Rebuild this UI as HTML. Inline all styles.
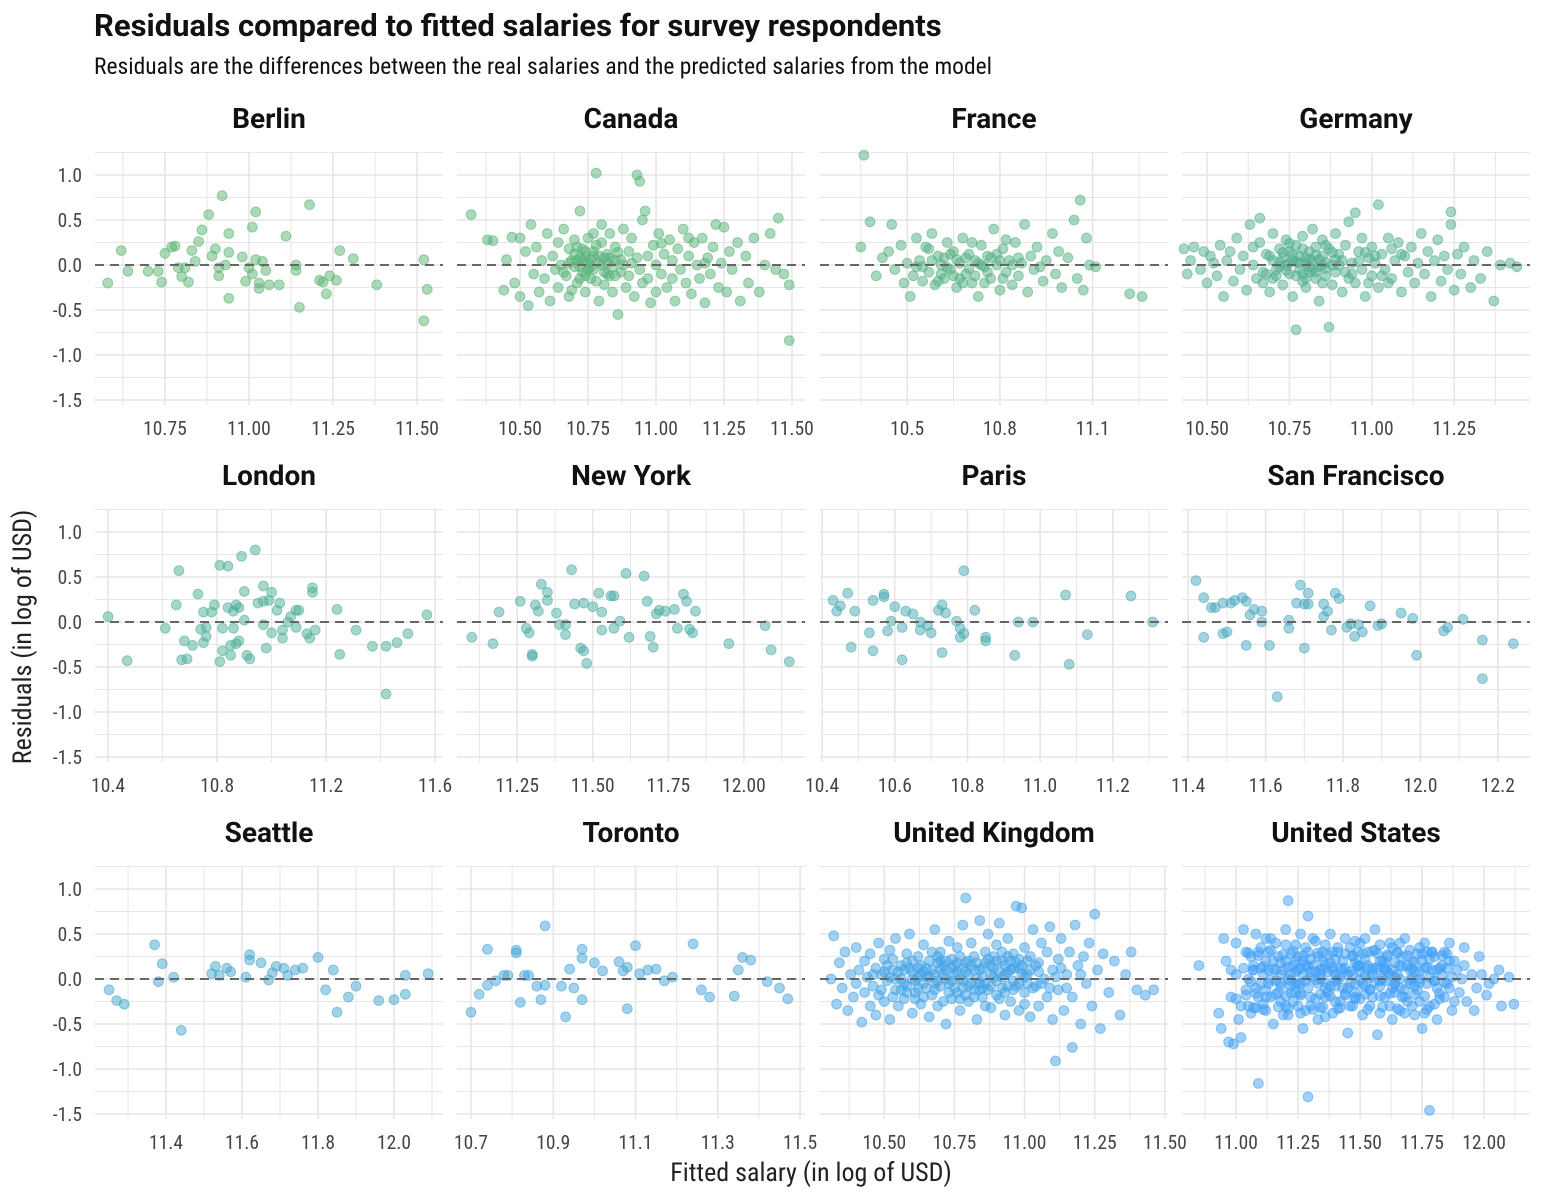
<!DOCTYPE html>
<html><head><meta charset="utf-8">
<style>
body{margin:0;background:#fff;}
svg{display:block;font-family:"Roboto Condensed","Liberation Sans Narrow","Liberation Sans",sans-serif;}
.tick{font-size:19.5px;fill:#444;}
.strip{font-size:28px;font-weight:bold;fill:#111;font-family:"Roboto","Liberation Sans",sans-serif;}
</style></head>
<body>
<svg id="chart" width="1543" height="1200" viewBox="0 0 1543 1200">
<text x="94" y="36" font-size="31" font-weight="bold" fill="#111" font-family="Roboto, Liberation Sans, sans-serif">Residuals compared to fitted salaries for survey respondents</text>
<text x="94" y="74" font-size="23.5" fill="#111">Residuals are the differences between the real salaries and the predicted salaries from the model</text>
<text transform="translate(31,637) rotate(-90)" text-anchor="middle" font-size="26" fill="#222">Residuals (in log of USD)</text>
<text x="811" y="1181" text-anchor="middle" font-size="26" fill="#222">Fitted salary (in log of USD)</text>
<g id="panels"></g>
</svg>
<script>
const panelNames = ["Berlin","Canada","France","Germany","London","New York","Paris","San Francisco","Seattle","Toronto","United Kingdom","United States"];
const panelColors = ["#5ab36f","#56b277","#52b080","#4fae8c","#4cae98","#4aaca3","#49aab0","#47a8bd","#45a6cb","#43a4d8","#41a2e6","#3f9ff5"];
const xDomains = [[10.542,11.577],[10.268,11.548],[10.218,11.344],[10.424,11.480],[10.352,11.629],[11.051,12.202],[10.394,11.352],[11.384,12.283],[11.213,12.129],[10.666,11.512],[10.271,11.511],[10.782,12.185]];
const xTicks = [[10.75,11.00,11.25,11.50],[10.50,10.75,11.00,11.25,11.50],[10.5,10.8,11.1],[10.50,10.75,11.00,11.25],[10.4,10.8,11.2,11.6],[11.25,11.50,11.75,12.00],[10.4,10.6,10.8,11.0,11.2],[11.4,11.6,11.8,12.0,12.2],[11.4,11.6,11.8,12.0],[10.7,10.9,11.1,11.3,11.5],[10.50,10.75,11.00,11.25,11.50],[11.00,11.25,11.50,11.75,12.00]];
const xTickDecimals = [2,2,1,2,1,2,1,1,1,1,2,2];
const yTicks = [-1.5,-1.0,-0.5,0.0,0.5,1.0];
const yTickLabels = ["-1.5","-1.0","-0.5","0.0","0.5","1.0"];

const berlin = [[10.58,-0.20],[10.62,0.16],[10.64,-0.07],[10.70,-0.07],[10.73,-0.07],[10.74,-0.19],[10.75,0.13],[10.77,0.20],[10.78,0.21],[10.79,-0.03],[10.80,-0.13],[10.81,-0.03],[10.82,-0.19],[10.83,0.16],[10.84,0.04],[10.85,0.26],[10.86,0.39],[10.88,0.56],[10.89,0.10],[10.90,0.18],[10.91,-0.03],[10.91,-0.12],[10.92,0.77],[10.93,0.00],[10.94,-0.37],[10.94,0.14],[10.94,0.35],[10.98,0.09],[10.99,-0.18],[11.00,-0.03],[11.01,0.42],[11.02,0.59],[11.02,0.06],[11.03,-0.26],[11.03,-0.20],[11.01,-0.10],[11.04,0.04],[11.05,-0.06],[11.06,-0.22],[11.09,-0.22],[11.11,0.32],[11.14,0.00],[11.14,-0.06],[11.15,-0.47],[11.18,0.67],[11.21,-0.17],[11.22,-0.19],[11.23,-0.32],[11.24,-0.12],[11.26,-0.17],[11.27,0.16],[11.31,0.07],[11.38,-0.22],[11.52,0.06],[11.52,-0.62],[11.53,-0.27]];
const canada = [[10.32,0.56],[10.38,0.28],[10.40,0.27],[10.44,-0.28],[10.45,0.06],[10.47,0.31],[10.48,-0.20],[10.50,0.30],[10.50,-0.35],[10.52,0.15],[10.53,-0.45],[10.54,0.45],[10.55,-0.10],[10.56,0.20],[10.57,-0.30],[10.58,0.05],[10.59,-0.15],[10.60,0.35],[10.61,-0.40],[10.62,0.10],[10.63,-0.05],[10.64,0.25],[10.64,-0.25],[10.65,0.00],[10.66,0.40],[10.67,-0.12],[10.68,0.18],[10.68,-0.35],[10.69,0.05],[10.70,-0.02],[10.70,0.28],[10.71,-0.20],[10.72,0.60],[10.72,0.08],[10.73,-0.08],[10.74,0.15],[10.74,-0.30],[10.75,0.02],[10.75,0.30],[10.76,-0.15],[10.77,0.10],[10.77,-0.05],[10.78,1.02],[10.78,0.22],[10.79,-0.40],[10.80,0.00],[10.80,0.45],[10.81,-0.22],[10.82,0.12],[10.82,-0.10],[10.83,0.35],[10.84,-0.30],[10.85,0.05],[10.85,0.20],[10.86,-0.55],[10.87,-0.08],[10.88,0.40],[10.88,0.00],[10.89,-0.25],[10.90,0.15],[10.90,-0.12],[10.91,0.30],[10.92,-0.35],[10.93,1.00],[10.94,0.93],[10.93,0.08],[10.94,-0.05],[10.95,0.50],[10.95,-0.20],[10.96,0.60],[10.97,0.10],[10.98,-0.42],[10.99,0.22],[11.00,0.00],[11.00,-0.30],[11.01,0.35],[11.02,-0.10],[11.03,0.12],[11.04,-0.25],[11.05,0.28],[11.06,0.05],[11.07,-0.40],[11.08,0.18],[11.09,-0.05],[11.10,0.40],[11.11,-0.20],[11.12,0.10],[11.13,-0.32],[11.14,0.25],[11.15,0.00],[11.16,-0.15],[11.17,0.30],[11.18,-0.42],[11.19,0.08],[11.20,-0.10],[11.21,0.20],[11.22,0.45],[11.23,-0.25],[11.24,0.02],[11.25,0.42],[11.26,-0.30],[11.27,0.15],[11.28,-0.05],[11.30,0.25],[11.31,-0.40],[11.33,0.10],[11.34,-0.20],[11.36,0.30],[11.38,-0.30],[11.40,0.00],[11.42,0.35],[11.44,-0.05],[11.45,0.52],[11.47,-0.10],[11.49,-0.84],[11.49,-0.22],[10.66,-0.08],[10.70,0.12],[10.73,0.05],[10.76,-0.02],[10.79,0.03],[10.81,0.08],[10.84,-0.02],[10.87,0.06],[10.91,0.02],[10.71,0.20],[10.74,-0.12],[10.78,-0.18],[10.83,-0.12],[10.86,0.14],[10.72,-0.15],[10.77,0.35],[10.97,-0.15],[11.02,0.24],[10.69,-0.28],[10.71,0.05],[10.73,0.18],[10.75,-0.05],[10.77,0.15],[10.79,0.10],[10.81,-0.08],[10.83,0.08],[10.85,-0.12],[10.72,-0.02],[10.68,0.02],[10.80,0.25],[10.76,0.06],[10.74,0.09],[10.82,0.02],[11.06,-0.15],[11.12,0.30],[11.18,0.02]];
const france = [[10.35,0.20],[10.36,1.22],[10.38,0.48],[10.40,-0.12],[10.42,0.08],[10.44,0.15],[10.45,0.45],[10.46,-0.05],[10.48,0.22],[10.49,-0.20],[10.50,0.02],[10.51,-0.35],[10.52,-0.12],[10.53,0.30],[10.54,0.05],[10.55,-0.18],[10.56,0.20],[10.57,-0.08],[10.58,0.35],[10.59,-0.22],[10.60,0.10],[10.61,0.00],[10.62,-0.15],[10.63,0.25],[10.64,-0.05],[10.65,0.15],[10.66,-0.25],[10.67,0.02],[10.68,0.30],[10.69,-0.10],[10.70,0.12],[10.71,-0.20],[10.72,0.05],[10.73,-0.35],[10.74,0.22],[10.75,-0.02],[10.76,0.10],[10.77,-0.15],[10.78,0.40],[10.79,0.00],[10.80,-0.28],[10.81,0.18],[10.82,-0.08],[10.83,0.05],[10.84,-0.22],[10.85,0.25],[10.86,-0.12],[10.87,0.02],[10.88,0.45],[10.89,-0.30],[10.90,0.10],[10.91,-0.05],[10.92,0.20],[10.94,-0.18],[10.95,0.05],[10.97,0.35],[10.98,-0.10],[10.99,0.15],[11.00,-0.25],[11.02,0.08],[11.04,0.50],[11.05,-0.15],[11.06,0.72],[11.07,-0.28],[11.08,0.30],[11.09,0.00],[11.11,-0.02],[11.22,-0.32],[11.26,-0.35],[10.53,-0.02],[10.58,0.05],[10.63,-0.03],[10.66,0.06],[10.70,-0.04],[10.74,0.00],[10.76,-0.08],[10.60,-0.18],[10.68,-0.20],[10.72,-0.12],[10.79,0.12],[10.62,0.08],[10.65,-0.12],[10.71,0.25],[10.75,-0.20],[10.82,0.28],[10.86,0.08],[10.93,-0.02],[10.57,0.18],[10.55,-0.02],[10.80,0.05],[10.61,-0.10],[10.64,0.12],[10.67,-0.15],[10.69,0.08],[10.73,0.02],[10.77,0.08],[10.81,-0.15],[10.84,0.00]];
const germany = [[10.43,0.18],[10.44,-0.10],[10.45,0.05],[10.46,0.20],[10.48,-0.05],[10.49,0.15],[10.50,-0.20],[10.51,0.10],[10.52,0.02],[10.53,-0.12],[10.54,0.22],[10.55,-0.35],[10.56,0.05],[10.57,0.15],[10.58,-0.18],[10.59,0.30],[10.60,-0.05],[10.61,0.10],[10.62,-0.28],[10.63,0.45],[10.64,0.00],[10.65,-0.15],[10.66,0.25],[10.66,0.52],[10.67,-0.08],[10.68,0.12],[10.69,-0.30],[10.70,0.05],[10.70,0.35],[10.71,-0.12],[10.72,0.18],[10.72,-0.02],[10.73,0.08],[10.73,-0.22],[10.74,0.28],[10.74,0.00],[10.75,-0.10],[10.75,0.15],[10.76,0.05],[10.76,-0.35],[10.77,-0.72],[10.77,0.22],[10.78,-0.05],[10.78,0.10],[10.79,-0.18],[10.79,0.32],[10.80,0.02],[10.80,-0.25],[10.81,0.15],[10.81,-0.08],[10.82,0.40],[10.82,0.05],[10.83,-0.15],[10.83,0.20],[10.84,-0.02],[10.84,-0.40],[10.85,0.10],[10.85,0.28],[10.86,-0.12],[10.86,0.03],[10.87,-0.69],[10.87,0.18],[10.88,-0.22],[10.88,0.00],[10.89,0.35],[10.89,-0.08],[10.90,0.12],[10.91,-0.30],[10.91,0.05],[10.92,0.22],[10.93,-0.15],[10.93,0.48],[10.94,0.02],[10.95,0.58],[10.95,-0.20],[10.96,0.15],[10.97,-0.05],[10.97,0.30],[10.98,-0.35],[10.99,0.08],[11.00,0.20],[11.00,-0.12],[11.01,0.02],[11.02,0.67],[11.02,-0.25],[11.03,0.12],[11.04,-0.05],[11.05,0.30],[11.06,-0.15],[11.07,0.05],[11.08,0.25],[11.09,-0.30],[11.10,0.10],[11.11,-0.08],[11.12,0.20],[11.13,-0.20],[11.14,0.02],[11.15,0.35],[11.16,-0.10],[11.17,0.15],[11.18,-0.35],[11.19,0.05],[11.20,0.28],[11.21,-0.18],[11.22,0.10],[11.23,-0.05],[11.24,0.59],[11.24,0.45],[11.25,-0.28],[11.26,0.12],[11.27,-0.10],[11.28,0.20],[11.30,-0.25],[11.31,0.05],[11.33,-0.15],[11.35,0.15],[11.37,-0.40],[11.39,0.00],[11.42,0.02],[11.44,-0.02],[10.78,0.02],[10.80,0.08],[10.82,-0.05],[10.76,0.12],[10.84,0.06],[10.74,-0.06],[10.86,-0.04],[10.79,-0.10],[10.83,0.11],[10.77,0.04],[10.81,-0.02],[10.90,0.00],[10.72,0.03],[10.69,0.10],[10.71,-0.05],[10.75,0.24],[10.80,-0.15],[10.85,-0.20],[10.88,0.14],[10.92,-0.08],[10.96,0.04],[10.99,-0.20],[11.03,-0.12],[11.06,0.18],[10.64,0.20],[10.67,-0.20],[10.70,-0.15],[10.73,0.14],[10.77,-0.12],[10.79,0.18],[10.81,0.06],[10.83,-0.08],[10.86,0.22],[10.89,0.06],[10.94,-0.10],[10.98,0.14],[11.01,0.10],[11.05,-0.20],[11.09,0.12],[10.68,-0.10],[10.75,0.02],[10.85,0.00]];
const london = [[10.40,0.06],[10.47,-0.43],[10.61,-0.07],[10.66,0.57],[10.65,0.19],[10.67,-0.42],[10.68,-0.21],[10.69,-0.41],[10.71,-0.26],[10.73,0.31],[10.74,-0.08],[10.75,-0.23],[10.75,0.11],[10.76,-0.16],[10.76,-0.06],[10.78,0.11],[10.79,0.19],[10.81,-0.44],[10.81,0.63],[10.82,-0.32],[10.82,-0.07],[10.84,0.62],[10.84,0.16],[10.85,-0.26],[10.85,-0.37],[10.86,-0.07],[10.86,0.12],[10.87,0.19],[10.87,-0.24],[10.88,0.16],[10.88,-0.21],[10.89,0.73],[10.90,0.34],[10.90,0.02],[10.91,-0.37],[10.92,-0.41],[10.94,0.80],[10.95,0.21],[10.97,0.40],[10.97,0.23],[10.97,-0.03],[10.98,-0.29],[10.99,0.24],[11.00,-0.12],[11.00,0.33],[11.02,0.13],[11.03,0.21],[11.04,-0.09],[11.04,-0.18],[11.06,0.00],[11.07,0.06],[11.09,0.13],[11.09,-0.06],[11.10,0.13],[11.13,-0.13],[11.14,-0.18],[11.15,0.38],[11.15,0.33],[11.16,-0.09],[11.24,0.14],[11.25,-0.36],[11.31,-0.09],[11.37,-0.27],[11.42,-0.27],[11.42,-0.80],[11.46,-0.23],[11.50,-0.13],[11.57,0.08]];
const newYork = [[11.10,-0.17],[11.17,-0.24],[11.19,0.11],[11.26,0.23],[11.28,-0.07],[11.29,-0.12],[11.30,-0.36],[11.30,-0.38],[11.31,0.19],[11.32,0.12],[11.33,0.42],[11.35,0.33],[11.35,0.24],[11.38,0.10],[11.39,-0.03],[11.41,-0.03],[11.41,-0.14],[11.43,0.58],[11.44,0.20],[11.46,-0.29],[11.47,-0.32],[11.48,-0.46],[11.47,0.21],[11.50,0.17],[11.52,0.32],[11.53,0.11],[11.53,-0.09],[11.56,0.29],[11.57,-0.07],[11.57,0.29],[11.59,0.01],[11.61,0.54],[11.62,-0.17],[11.67,0.51],[11.68,0.23],[11.69,-0.16],[11.71,0.09],[11.70,-0.28],[11.72,0.13],[11.74,0.12],[11.77,0.14],[11.78,-0.07],[11.80,0.31],[11.81,0.23],[11.82,-0.08],[11.83,-0.12],[11.84,0.12],[11.95,-0.24],[12.07,-0.04],[12.09,-0.31],[12.15,-0.44]];
const paris = [[10.43,0.24],[10.44,0.12],[10.45,0.18],[10.47,0.32],[10.48,-0.28],[10.49,0.12],[10.53,-0.12],[10.54,-0.32],[10.54,0.24],[10.57,0.28],[10.57,0.31],[10.58,-0.10],[10.59,0.01],[10.60,0.17],[10.62,-0.06],[10.62,-0.42],[10.63,0.12],[10.65,0.09],[10.67,-0.09],[10.67,0.00],[10.69,-0.04],[10.70,-0.12],[10.72,0.13],[10.73,-0.34],[10.73,0.19],[10.74,0.10],[10.77,0.01],[10.78,-0.17],[10.78,-0.07],[10.79,0.57],[10.79,-0.13],[10.82,0.13],[10.85,-0.17],[10.85,-0.21],[10.93,-0.37],[10.94,0.00],[10.98,0.00],[11.07,0.30],[11.08,-0.47],[11.13,-0.14],[11.25,0.29],[11.31,0.00]];
const sanFrancisco = [[11.42,0.46],[11.44,0.27],[11.44,-0.17],[11.46,0.16],[11.47,0.16],[11.49,-0.13],[11.49,0.21],[11.50,-0.11],[11.51,0.21],[11.52,0.24],[11.54,0.27],[11.55,0.23],[11.56,0.08],[11.55,-0.26],[11.57,0.14],[11.59,0.00],[11.59,0.12],[11.61,-0.26],[11.63,-0.83],[11.66,-0.07],[11.66,0.02],[11.68,0.21],[11.69,0.41],[11.70,0.20],[11.70,-0.29],[11.71,0.32],[11.71,0.20],[11.75,0.06],[11.75,0.20],[11.76,0.12],[11.77,-0.09],[11.78,0.32],[11.79,0.26],[11.81,-0.06],[11.82,-0.02],[11.83,-0.16],[11.84,-0.03],[11.85,-0.11],[11.87,0.18],[11.89,-0.04],[11.90,-0.02],[11.95,0.10],[11.98,0.04],[12.06,-0.10],[12.07,-0.06],[12.11,0.03],[11.99,-0.37],[12.16,-0.20],[12.16,-0.63],[12.24,-0.24]];
const seattle = [[11.25,-0.12],[11.27,-0.24],[11.29,-0.28],[11.37,0.38],[11.38,-0.03],[11.39,0.17],[11.42,0.02],[11.44,-0.57],[11.52,0.06],[11.53,0.14],[11.54,0.04],[11.56,0.12],[11.57,0.08],[11.61,0.02],[11.62,0.27],[11.62,0.21],[11.65,0.18],[11.67,-0.01],[11.68,0.07],[11.69,0.14],[11.71,0.12],[11.72,0.04],[11.74,0.10],[11.76,0.12],[11.80,0.24],[11.82,-0.12],[11.84,0.10],[11.85,-0.37],[11.88,-0.20],[11.90,-0.08],[11.96,-0.24],[12.00,-0.23],[12.03,-0.17],[12.03,0.04],[12.09,0.06]];
const toronto = [[10.70,-0.37],[10.72,-0.17],[10.74,-0.07],[10.74,0.33],[10.76,-0.02],[10.78,0.04],[10.79,0.04],[10.81,0.32],[10.81,0.29],[10.82,-0.26],[10.83,0.04],[10.84,0.04],[10.86,-0.08],[10.87,-0.23],[10.88,0.59],[10.88,-0.07],[10.92,-0.08],[10.93,-0.42],[10.94,0.11],[10.95,-0.10],[10.97,0.23],[10.97,0.33],[10.97,-0.23],[11.00,0.18],[11.02,0.09],[11.06,0.19],[11.07,0.09],[11.08,-0.33],[11.08,0.13],[11.10,0.37],[11.11,0.06],[11.13,0.10],[11.15,0.11],[11.17,-0.02],[11.19,0.02],[11.24,0.39],[11.26,-0.12],[11.28,-0.20],[11.34,-0.19],[11.35,0.10],[11.36,0.24],[11.38,0.21],[11.42,-0.03],[11.45,-0.10],[11.47,-0.22]];
const unitedKingdom = [[10.31,0.00],[10.32,0.48],[10.33,-0.28],[10.34,0.18],[10.35,-0.10],[10.36,0.30],[10.37,-0.35],[10.38,0.05],[10.39,-0.20],[10.40,0.35],[10.40,-0.05],[10.41,0.10],[10.42,-0.48],[10.43,0.20],[10.43,-0.15],[10.44,0.02],[10.45,-0.30],[10.45,0.28],[10.46,-0.08],[10.47,0.12],[10.47,-0.40],[10.48,0.40],[10.48,-0.18],[10.49,0.05],[10.50,-0.25],[10.50,0.22],[10.51,-0.02],[10.52,0.32],[10.52,-0.45],[10.53,0.10],[10.54,-0.12],[10.54,0.45],[10.55,-0.30],[10.56,0.15],[10.56,0.00],[10.57,-0.22],[10.58,0.28],[10.58,-0.08],[10.59,0.50],[10.60,-0.38],[10.60,0.08],[10.61,-0.15],[10.62,0.25],[10.62,0.02],[10.63,-0.28],[10.64,0.38],[10.64,-0.05],[10.65,0.12],[10.66,-0.42],[10.66,0.20],[10.67,-0.18],[10.68,0.05],[10.68,0.55],[10.69,-0.30],[10.70,0.30],[10.70,-0.08],[10.71,0.15],[10.72,-0.50],[10.72,0.00],[10.73,0.42],[10.74,-0.22],[10.74,0.22],[10.75,-0.10],[10.76,0.35],[10.76,0.08],[10.77,-0.35],[10.78,0.60],[10.78,-0.02],[10.79,0.90],[10.79,0.18],[10.80,-0.25],[10.80,0.05],[10.81,0.40],[10.82,-0.12],[10.82,0.25],[10.83,-0.45],[10.84,0.10],[10.84,0.65],[10.85,-0.20],[10.86,0.30],[10.86,-0.05],[10.87,0.50],[10.88,-0.32],[10.88,0.15],[10.89,0.02],[10.90,-0.18],[10.90,0.38],[10.91,0.62],[10.92,-0.10],[10.92,0.20],[10.93,-0.40],[10.94,0.08],[10.94,0.45],[10.95,-0.25],[10.96,0.28],[10.96,-0.02],[10.97,0.81],[10.98,-0.35],[10.98,0.12],[10.99,0.79],[11.00,0.35],[11.00,-0.15],[11.01,0.05],[11.02,-0.42],[11.02,0.25],[11.03,0.55],[11.04,-0.08],[11.05,0.18],[11.05,-0.30],[11.06,0.40],[11.07,0.00],[11.08,-0.20],[11.08,0.30],[11.09,0.58],[11.10,-0.45],[11.10,0.10],[11.11,-0.91],[11.12,0.22],[11.12,-0.12],[11.13,0.45],[11.14,-0.35],[11.15,0.05],[11.16,0.30],[11.17,-0.76],[11.17,-0.20],[11.18,0.60],[11.19,0.15],[11.20,-0.50],[11.21,0.25],[11.22,-0.05],[11.23,0.40],[11.24,-0.30],[11.25,0.72],[11.26,0.10],[11.27,-0.55],[11.28,0.28],[11.30,-0.15],[11.32,0.20],[11.34,-0.40],[11.36,0.05],[11.38,0.30],[11.40,-0.12],[11.43,-0.18],[11.46,-0.12],[10.60,0.00],[10.65,0.03],[10.70,0.10],[10.75,0.05],[10.80,-0.08],[10.85,0.12],[10.90,-0.02],[10.95,0.10],[11.00,0.02],[11.05,0.08],[10.62,-0.10],[10.68,-0.12],[10.73,-0.05],[10.78,0.12],[10.83,0.00],[10.88,0.05],[10.93,-0.15],[10.98,-0.05],[11.03,-0.10],[10.72,0.20],[10.77,0.25],[10.82,-0.20],[10.87,0.22],[10.92,0.30],[10.97,0.18],[11.02,0.10],[10.57,0.10],[10.52,0.02],[10.63,0.15],[10.67,0.30],[10.71,-0.25],[10.76,-0.15],[10.81,0.15],[10.86,-0.30],[10.91,0.08],[10.96,-0.12],[11.01,0.20],[11.06,-0.05],[11.11,0.02],[11.15,-0.10],[11.20,0.05],[10.69,0.18],[10.74,0.12],[10.79,-0.18],[10.84,-0.12],[10.89,0.25],[10.94,-0.08],[10.99,0.06],[11.04,0.15],[11.09,-0.10],[11.13,0.12],[10.58,0.18],[10.64,-0.20],
[10.46,0.05],[10.49,-0.12],[10.51,0.15],[10.53,-0.20],[10.55,0.08],[10.57,-0.05],[10.59,0.12],[10.61,-0.22],[10.63,0.05],[10.65,-0.10],[10.67,0.10],[10.69,-0.02],[10.71,0.05],[10.73,-0.15],[10.75,0.15],[10.77,0.00],[10.79,0.08],[10.81,-0.05],[10.83,0.18],[10.85,0.02],[10.87,-0.12],[10.89,0.12],[10.91,-0.22],[10.93,0.05],[10.95,0.20],[10.97,-0.08],[10.99,0.15],[11.01,-0.05],[10.50,0.08],[10.54,0.00],[10.58,-0.15],[10.62,0.12],[10.66,0.02],[10.70,0.20],[10.74,-0.02],[10.78,-0.10],[10.82,0.10],[10.86,0.18],[10.90,0.20],[10.94,0.25],[10.98,0.22],[10.56,-0.12],[10.60,0.20],[10.64,0.08],[10.68,-0.05],[10.72,0.10],[10.76,0.18],[10.80,0.20],[10.84,-0.05],[10.88,-0.08],[10.92,0.02],[10.96,0.12],[11.00,-0.28],[10.53,0.22],[10.61,-0.02],[10.69,0.25],[10.77,-0.22],[10.85,-0.10],[10.93,0.15]];
const unitedStates = [[10.85,0.15],[10.93,-0.38],[10.95,0.45],[10.94,-0.55],[10.97,-0.70],[10.99,-0.72],[11.02,-0.65],[11.09,-1.16],[11.29,-1.31],[11.78,-1.46],[11.21,0.87],[11.29,0.70],[11.03,0.55],[11.08,0.50],[10.96,0.20],[10.98,-0.20],[11.00,0.40],[11.01,-0.45],[11.04,0.30],[11.05,-0.30],[11.07,0.10],[11.08,-0.10],[11.10,0.35],[11.12,-0.35],[11.14,0.45],[11.15,-0.50],[11.17,0.25],[11.18,-0.25],[11.20,0.55],[11.21,-0.40],[11.23,0.15],[11.24,-0.15],[11.26,0.50],[11.27,-0.55],[11.29,0.30],[11.30,-0.30],[11.32,0.42],[11.33,-0.45],[11.35,0.20],[11.36,-0.20],[11.38,0.50],[11.39,-0.38],[11.41,0.35],[11.42,-0.25],[11.44,0.45],[11.45,-0.60],[11.47,0.25],[11.48,-0.15],[11.50,0.40],[11.51,-0.40],[11.53,0.30],[11.54,-0.30],[11.56,0.55],[11.57,-0.62],[11.59,0.20],[11.60,-0.20],[11.62,0.40],[11.63,-0.45],[11.65,0.30],[11.66,-0.35],[11.68,0.45],[11.69,-0.25],[11.71,0.20],[11.72,-0.40],[11.74,0.35],[11.75,-0.55],[11.77,0.30],[11.78,-0.30],[11.80,0.25],[11.81,-0.45],[11.83,0.15],[11.84,-0.20],[11.86,0.20],[11.87,-0.35],[11.89,0.10],[11.90,-0.15],[11.92,0.15],[11.93,-0.25],[11.95,0.05],[11.97,-0.10],[11.99,0.05],[12.01,-0.18],[12.04,0.00],[12.07,-0.30],[12.10,0.02],[12.12,-0.28],
[11.05,0.00],[11.07,0.15],[11.09,-0.20],[11.11,0.05],[11.13,-0.05],[11.15,0.20],[11.17,-0.15],[11.19,0.10],[11.21,0.00],[11.23,-0.25],[11.25,0.25],[11.27,0.05],[11.29,-0.10],[11.31,0.15],[11.33,-0.05],[11.35,0.30],[11.37,-0.15],[11.39,0.10],[11.41,0.00],[11.43,0.20],[11.45,-0.10],[11.47,0.05],[11.49,0.30],[11.51,-0.05],[11.53,0.15],[11.55,-0.20],[11.57,0.10],[11.59,0.00],[11.61,0.25],[11.63,-0.10],[11.65,0.05],[11.67,-0.20],[11.69,0.15],[11.71,0.00],[11.73,-0.12],[11.75,0.20],[11.77,-0.05],[11.79,0.10],[11.81,-0.10],[11.83,0.05],[11.85,-0.05],[11.87,0.02],
[11.06,0.25],[11.08,-0.32],[11.10,0.12],[11.12,-0.12],[11.14,0.32],[11.16,-0.02],[11.18,0.18],[11.20,-0.30],[11.22,0.28],[11.24,0.08],[11.26,-0.18],[11.28,0.35],[11.30,0.02],[11.32,-0.22],[11.34,0.10],[11.36,0.38],[11.38,-0.08],[11.40,0.22],[11.42,-0.32],[11.44,0.12],[11.46,0.35],[11.48,-0.22],[11.50,0.08],[11.52,0.22],[11.54,-0.12],[11.56,0.32],[11.58,-0.02],[11.60,0.12],[11.62,-0.30],[11.64,0.18],[11.66,0.00],[11.68,-0.12],[11.70,0.32],[11.72,0.08],[11.74,-0.25],[11.76,0.12],[11.78,0.22],[11.80,-0.02],[11.82,-0.22],[11.84,0.30],[11.86,-0.10],[11.88,0.20],
[11.04,-0.12],[11.06,-0.38],[11.09,0.30],[11.11,-0.28],[11.13,0.10],[11.16,0.40],[11.18,0.05],[11.19,-0.40],[11.22,-0.08],[11.24,0.38],[11.25,-0.05],[11.27,0.20],[11.28,-0.35],[11.31,0.45],[11.33,0.25],[11.34,-0.32],[11.37,0.08],[11.39,0.30],[11.40,-0.25],[11.43,-0.10],[11.44,0.28],[11.46,-0.30],[11.49,0.15],[11.50,-0.22],[11.52,0.45],[11.55,0.05],[11.57,0.28],[11.58,-0.38],[11.61,0.08],[11.63,0.35],[11.64,-0.15],[11.67,0.25],[11.68,-0.38],[11.70,0.10],[11.73,0.28],[11.74,0.00],[11.76,-0.38],[11.79,0.30],[11.80,-0.28],[11.82,0.12],[11.85,0.28],[11.88,-0.25],[11.91,0.00],
[11.12,0.20],[11.14,-0.20],[11.20,0.20],[11.22,-0.15],[11.26,0.12],[11.30,0.22],[11.32,0.08],[11.36,-0.10],[11.38,0.18],[11.42,0.12],[11.45,0.05],[11.48,0.18],[11.52,-0.08],[11.55,0.12],[11.58,0.20],[11.62,0.05],[11.66,0.15],[11.70,-0.05],[11.74,0.08],[11.78,0.02],[11.16,0.10],[11.24,-0.05],[11.34,0.00],[11.44,-0.18],[11.54,0.02],[11.64,-0.05],[11.72,0.18],[11.28,0.15],[11.40,0.05],[11.50,0.15],[11.60,0.10],[11.20,0.38],[11.26,-0.38],[11.36,-0.42],[11.48,0.42],[11.58,0.38],[11.66,0.40],[11.76,0.40],[11.86,0.40],[11.12,0.45],[11.92,0.35],[11.96,-0.35],[11.98,0.25],[12.02,-0.05],[12.06,0.10],[11.00,0.05],[10.98,0.10],[11.02,-0.30],[11.00,-0.22],
[11.05,0.29],[11.09,0.26],[11.13,0.30],[11.19,0.27],[11.23,0.31],[11.27,0.26],[11.33,0.29],[11.37,0.27],[11.41,0.30],[11.47,0.26],[11.51,0.28],[11.55,0.31],[11.61,0.27],[11.65,0.29],[11.69,0.26],[11.75,0.28],[11.79,0.30],[11.83,0.26],
[11.03,0.12],[11.07,0.10],[11.11,0.14],[11.15,0.11],[11.21,0.13],[11.25,0.10],[11.29,0.14],[11.35,0.11],[11.39,0.13],[11.43,0.10],[11.49,0.14],[11.53,0.11],[11.57,0.13],[11.63,0.10],[11.67,0.14],[11.71,0.11],[11.77,0.13],[11.81,0.10],[11.85,0.12],
[11.06,-0.03],[11.10,-0.05],[11.14,-0.01],[11.18,-0.04],[11.22,-0.02],[11.26,-0.05],[11.32,-0.01],[11.36,-0.04],[11.40,-0.02],[11.46,-0.05],[11.50,-0.01],[11.56,-0.04],[11.60,-0.02],[11.64,-0.05],[11.70,-0.01],[11.74,-0.04],[11.80,-0.02],[11.84,-0.04],
[11.04,-0.18],[11.08,-0.16],[11.12,-0.20],[11.16,-0.17],[11.20,-0.19],[11.26,-0.16],[11.30,-0.20],[11.34,-0.17],[11.38,-0.19],[11.44,-0.16],[11.48,-0.20],[11.52,-0.17],[11.58,-0.19],[11.62,-0.16],[11.68,-0.20],[11.72,-0.17],[11.76,-0.19],[11.82,-0.16],
[11.07,-0.32],[11.11,-0.34],[11.17,-0.31],[11.21,-0.33],[11.25,-0.30],[11.31,-0.34],[11.35,-0.31],[11.41,-0.33],[11.47,-0.30],[11.53,-0.34],[11.59,-0.31],[11.65,-0.33],[11.71,-0.30],[11.77,-0.34],
[11.22,0.05],[11.28,-0.02],[11.34,0.06],[11.40,-0.08],[11.46,0.08],[11.52,0.04],[11.58,-0.08],[11.64,0.02],[11.18,-0.08],[11.30,0.08],[11.42,0.02],[11.54,-0.12],[11.66,-0.10],[11.24,0.20],[11.36,0.16],[11.48,-0.06],[11.60,0.18],[11.72,-0.08]];

const panelData = [berlin,canada,france,germany,london,newYork,paris,sanFrancisco,seattle,toronto,unitedKingdom,unitedStates];

const NS = "http://www.w3.org/2000/svg";
const colLeft = [95,457,820,1182], colW = 348;
const rowTop = [152,509,866], rowH = 253, yZeroPx = [265,622,979], yUnit = 90;
const root = document.getElementById('panels');
function mk(tag, attrs, parent){const e=document.createElementNS(NS,tag);for(const k in attrs)e.setAttribute(k,attrs[k]);parent.appendChild(e);return e;}

panelData.forEach((pts, i) => {
  const r = Math.floor(i/4), c = i%4;
  const x0 = colLeft[c], x1 = x0+colW;
  const dom = xDomains[i];
  const sx = v => x0 + (v-dom[0])/(dom[1]-dom[0])*colW;
  const sy = v => yZeroPx[r] - v*yUnit;
  const g = mk('g', {}, root);
  
  
  const top = rowTop[r], bot = top+rowH;
  for (let v=-1.5; v<=1.26; v+=0.25){
    const major = Math.abs(v*2 - Math.round(v*2))<1e-6;
    const ln = mk('line', {x1:x0,x2:x1,y1:sy(v),y2:sy(v),stroke:'#e6e6e6','stroke-width':major?1.6:1}, g);
    
    
  }
  const tk = xTicks[i], step = tk[1]-tk[0];
  for (let k=-4; k<=tk.length*2+4; k++){
    const v = tk[0] + k*step/2;
    const px = sx(v);
    if (px < x0-0.5 || px > x1+0.5) continue;
    const ln = mk('line', {x1:px,x2:px,y1:top,y2:bot,stroke:'#e6e6e6','stroke-width':(k%2===0)?1.6:1}, g);
    
    
  }
  tk.forEach(v => {
    const t = mk('text', {x:sx(v), y:[435,792,1149][r], 'text-anchor':'middle', class:'tick'}, g);
    t.textContent = v.toFixed(xTickDecimals[i]);
    
    
  });
  if (c===0){
    yTicks.forEach((v, j) => {
      const t = mk('text', {x:82, y:sy(v)+7, 'text-anchor':'end', class:'tick'}, g);
      t.textContent = yTickLabels[j];
      
      
    });
  }
  const st = mk('text', {x:x0+colW/2, y:[128,485,842][r], 'text-anchor':'middle', class:'strip'}, g);
  st.textContent = panelNames[i];
  
  
  pts.forEach(p => {
    const ci = mk('circle', {cx:sx(p[0]), cy:sy(p[1]), r:4.9, fill:panelColors[i], 'fill-opacity':0.5, stroke:panelColors[i], 'stroke-opacity':0.55, 'stroke-width':1}, g);
    
    
  });
  const zl = mk('line', {x1:x0,x2:x1,y1:sy(0),y2:sy(0),stroke:'#666','stroke-width':2,'stroke-dasharray':'9 6'}, g);
  
  
});
</script>
</body></html>
